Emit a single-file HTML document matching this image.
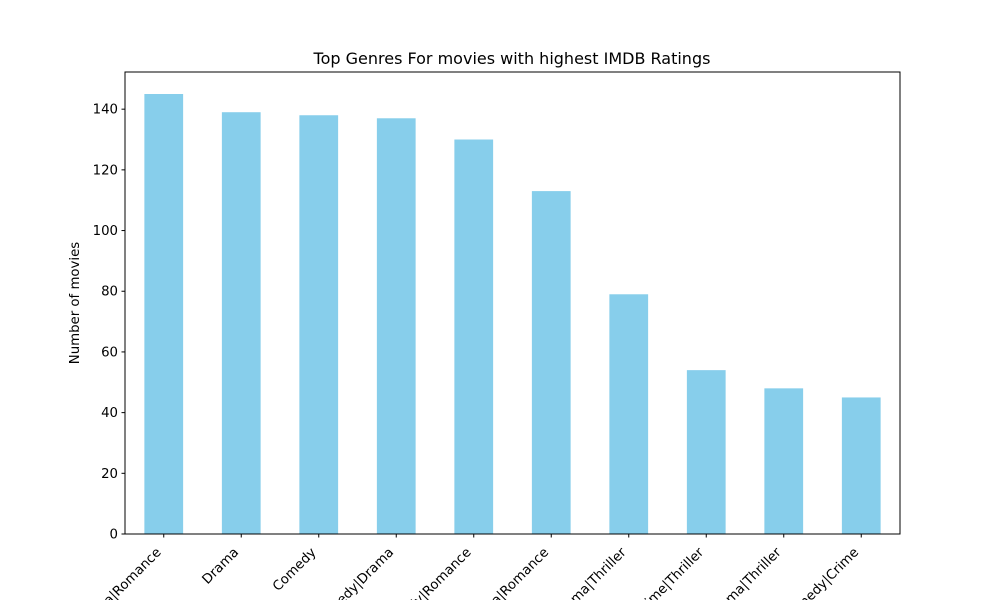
<!DOCTYPE html>
<html><head><meta charset="utf-8"><style>html,body{margin:0;background:#fff;overflow:hidden;width:1000px;height:600px}svg{font-family:"DejaVu Sans","Liberation Sans",sans-serif;display:block}</style></head>
<body>
<svg id="c" width="1000" height="600">
<text x="512" y="64" text-anchor="middle" font-size="16">Top Genres For movies with highest IMDB Ratings</text>
<text transform="translate(79,303) rotate(-90)" text-anchor="middle" font-size="13.3">Number of movies</text>
<g id="bars"></g><g id="yt"></g><g id="xt"></g>
<rect x="125" y="72" width="775" height="462" fill="none" stroke="#000" stroke-width="1"/>
</svg>
<script>
const categories=["Drama|Romance","Drama","Comedy","Comedy|Drama","Comedy|Romance","Comedy|Drama|Romance","Crime|Drama|Thriller","Crime|Thriller","Drama|Thriller","Comedy|Crime"];
const counts=[145,139,138,137,130,113,79,54,48,45];
const yTicks=[0,20,40,60,80,100,120,140];
const NS="http://www.w3.org/2000/svg";
const L=125,R=900,T=72,B=534,ymax=152.25;
const y=v=>B-(v/ymax)*(B-T);
const step=(R-L)/categories.length;
const xc=i=>L+step*(i+0.5);
function mk(tag,attrs,parent){const e=document.createElementNS(NS,tag);for(const k in attrs)e.setAttribute(k,attrs[k]);parent.appendChild(e);return e;}
const gb=document.getElementById('bars'),gy=document.getElementById('yt'),gx=document.getElementById('xt');
counts.forEach((v,i)=>{const r=mk('rect',{x:xc(i)-step/4,y:y(v),width:step/2,height:B-y(v),fill:'#87ceeb'},gb);

});
yTicks.forEach(t=>{const l=mk('line',{x1:L-3.5,x2:L,y1:y(t),y2:y(t),stroke:'#000'},gy);


const tx=mk('text',{x:L-7,y:y(t)+4.5,'text-anchor':'end','font-size':'13.3'},gy);tx.textContent=t;

});
categories.forEach((c,i)=>{const x=xc(i);const l=mk('line',{x1:x,x2:x,y1:B,y2:B+3.5,stroke:'#000'},gx);


const px=x-2,py=553;
const tx=mk('text',{x:px,y:py,'text-anchor':'end','font-size':'13.3',transform:`rotate(-45 ${px} ${py})`},gx);tx.textContent=c;

});
</script>
</body></html>
